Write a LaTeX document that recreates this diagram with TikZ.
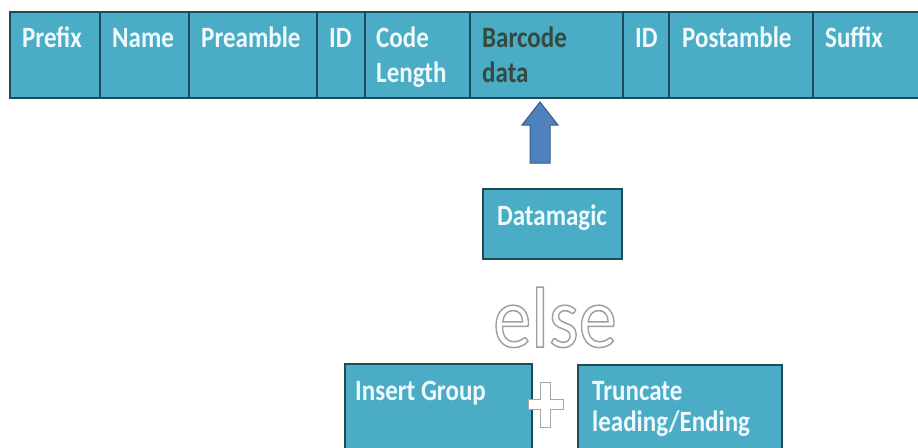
\documentclass[tikz,border=0pt]{standalone}
\usepackage{fontspec}
\setmainfont{Carlito}
\usepackage{graphicx}
\definecolor{cellfill}{HTML}{4BACC6}
\definecolor{celldraw}{HTML}{1F4A5C}
\definecolor{txtwhite}{HTML}{EEFAFD}
\definecolor{txtdark}{HTML}{354A3E}
\definecolor{arrowfill}{HTML}{4F81BD}
\definecolor{arrowdraw}{HTML}{385D8A}
\definecolor{outlinegray}{HTML}{A6A6A6}
\newcommand{\vs}[1]{\scalebox{1}[1.18]{#1}}
\newcommand{\outlined}[1]{{\color{white}\special{pdf:literal direct 0.62 0.62 0.62 RG 2 Tr 1.3 w}#1\special{pdf:literal direct 0 Tr}}}
\begin{document}
\begin{tikzpicture}[x=1pt,y=-1pt,
  cell/.style={draw=celldraw, fill=cellfill, line width=1.6pt, rectangle, inner sep=0pt, outer sep=0pt, anchor=north west},
  lbl/.style={anchor=base west, inner sep=0pt, text=txtwhite, align=left, font=\bfseries\fontsize{25}{35}\selectfont},
]
\useasboundingbox (0,0) rectangle (918,447);
\fill[white] (0,0) rectangle (918,447);
\begin{scope}
\clip (0,0) rectangle (918,447);
% top bar
\node[cell, minimum width=90, minimum height=86] (prefix) at (10,12) {};
\node[cell, minimum width=89, minimum height=86] (name) at (100,12) {};
\node[cell, minimum width=128, minimum height=86] (preamble) at (189,12) {};
\node[cell, minimum width=48, minimum height=86] (id1) at (317,12) {};
\node[cell, minimum width=105, minimum height=86] (codelen) at (365,12) {};
\node[cell, minimum width=153, minimum height=86] (barcode) at (470,12) {};
\node[cell, minimum width=46, minimum height=86] (id2) at (623,12) {};
\node[cell, minimum width=144, minimum height=86] (postamble) at (669,12) {};
\node[cell, minimum width=117, minimum height=86] (suffix) at (813,12) {};
\node[lbl] (tprefix) at (22,47) {\vs{Prefix}};
\node[lbl] (tname) at (112,47) {\vs{Name}};
\node[lbl] (tpreamble) at (201,47) {\vs{Preamble}};
\node[lbl] (tid1) at (329,47) {\vs{ID}};
\node[lbl] (tcodelen) at (376,82) {\vs{Code}\\\vs{Length}};
\node[lbl, text=txtdark] (tbarcode) at (482,82) {\vs{Barcode}\\\vs{data}};
\node[lbl] (tid2) at (635,47) {\vs{ID}};
\node[lbl] (tpostamble) at (682,47) {\vs{Postamble}};
\node[lbl] (tsuffix) at (825,47) {\vs{Suffix}};
% datamagic
\node[cell, minimum width=139, minimum height=70] (datamagic) at (483,189) {};
\node[lbl, anchor=base] (tdatamagic) at (552,225) {\vs{Datamagic}};
% arrow
\draw[fill=arrowfill, draw=arrowdraw, line width=1pt, line join=miter]
  (540,102) -- (558,125) -- (550,125) -- (550,163) -- (530,163) -- (530,125) -- (522,125) -- cycle;
% else
\node[inner sep=0pt, anchor=base, font=\fontsize{75}{75}\selectfont] (else) at (555,347) {\outlined{\scalebox{1.02}[1.15]{else}}};
% bottom boxes
\node[cell, minimum width=187, minimum height=100] (insert) at (345,364) {};
\node[lbl] (tinsert) at (355,400) {\vs{Insert Group}};
\node[cell, minimum width=204, minimum height=100] (truncate) at (578,365) {};
\node[lbl, font=\bfseries\fontsize{25}{31}\selectfont] (ttruncate) at (592,431) {\vs{Truncate}\\\vs{leading/Ending}};
% plus
\draw[fill=white, draw=outlinegray, line width=1pt]
  (540,382) -- (550,382) -- (550,399) -- (563,399) -- (563,409) -- (550,409) -- (550,427) -- (540,427) -- (540,409) -- (528,409) -- (528,399) -- (540,399) -- cycle;
\end{scope}
\end{tikzpicture}
\end{document}
